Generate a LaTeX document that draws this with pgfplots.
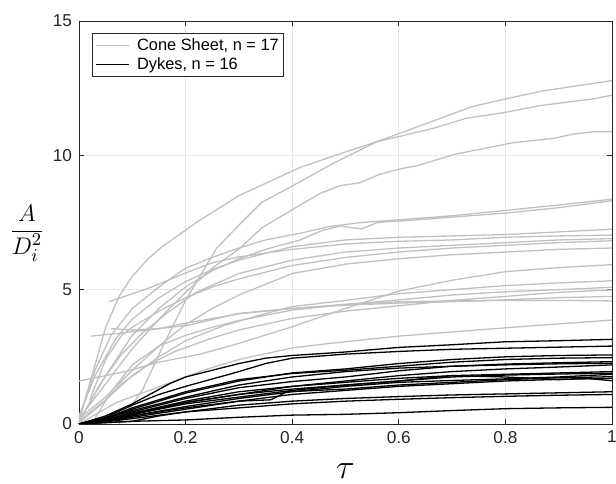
\documentclass[border=0pt]{standalone}
\usepackage{fontspec}
\setmainfont{Liberation Sans}
\usepackage{pgfplots}
\pgfplotsset{compat=1.18}
\definecolor{gl}{RGB}{192,192,192}
\definecolor{ax}{RGB}{38,38,38}
\begin{document}
\begin{tikzpicture}
\begin{axis}[name=ax, scale only axis, width=266.5pt, height=201.5pt,
  xmin=0, xmax=1, ymin=0, ymax=15,
  xtick={0,0.2,0.4,0.6,0.8,1}, ytick={0,5,10,15},
  xtick pos=both, ytick pos=both, tick align=inside, major tick length=2.5pt,
  grid=major, grid style={color=black!9, line width=0.4pt},
  axis line style={draw=ax, line width=0.45pt},
  tick style={draw=ax, line width=0.45pt},
  ticklabel style={font=\fontsize{8.6}{10}\selectfont, text=ax},
  /pgf/number format/assume math mode=true,
  xlabel={$\tau$},
  xlabel style={at={(axis description cs:0.5,0)}, anchor=north, yshift=-16.5pt, font=\fontsize{17}{20}\selectfont},
  ylabel={$\displaystyle\frac{A}{D_i^2}$},
  ylabel style={rotate=-90, at={(axis description cs:0,0.474)}, anchor=center, xshift=-26pt, font=\fontsize{13}{15}\selectfont},
  legend style={at={(0,1)}, anchor=north west, xshift=6.35pt, yshift=-6.15pt,
    draw=ax, line width=0.45pt, fill=white, font=\fontsize{8.2}{9.5}\selectfont,
    inner xsep=1.5pt, inner ysep=1.2pt, row sep=0pt,
    nodes={inner sep=0.8pt, text height=6.3pt, text depth=1.6pt},
    /tikz/every odd column/.append style={column sep=3pt}},
  legend cell align=left,
  legend image code/.code={\draw[#1] (0pt,0pt) -- (16.5pt,0pt);},
  every axis plot/.append style={line width=0.65pt},
]
% ---- Cone sheets (grey) ----
\addplot[gl] coordinates {(0,0.1)(0.03,2.2)(0.05,3.6)(0.075,4.74)(0.1,5.5)(0.13,6.15)(0.156,6.6)(0.22,7.5)(0.3,8.5)(0.415,9.55)(0.496,10.1)(0.558,10.5)(0.664,11.0)(0.727,11.38)(0.8,11.6)(0.865,11.85)(0.965,12.1)(1,12.24)};
\addlegendentry{Cone Sheet, n = 17}
\addplot[gl, forget plot] coordinates {(0.075,0)(0.12,1.3)(0.16,3.0)(0.2,4.6)(0.258,6.54)(0.3,7.4)(0.343,8.25)(0.415,9.02)(0.477,9.7)(0.558,10.5)(0.602,10.82)(0.737,11.81)(0.8,12.1)(0.871,12.4)(1,12.78)};
\addplot[gl, forget plot] coordinates {(0,0.2)(0.05,1.5)(0.1,2.8)(0.15,3.9)(0.2,4.9)(0.25,5.8)(0.302,6.54)(0.343,7.3)(0.415,8.15)(0.452,8.58)(0.49,8.87)(0.527,8.98)(0.565,9.3)(0.602,9.49)(0.633,9.61)(0.708,10.05)(0.746,10.2)(0.814,10.47)(0.89,10.63)(0.927,10.79)(0.965,10.88)(1,10.88)};
\addplot[gl, forget plot] coordinates {(0,0.2)(0.03,2.0)(0.06,3.3)(0.1,4.3)(0.15,5.1)(0.2,5.8)(0.25,6.2)(0.3,6.55)(0.35,6.85)(0.415,7.1)(0.47,7.35)(0.53,7.5)(0.6,7.6)(0.7,7.75)(0.8,7.95)(0.9,8.15)(1,8.37)};
\addplot[gl, forget plot] coordinates {(0,0.1)(0.05,1.8)(0.1,3.3)(0.15,4.3)(0.2,5.1)(0.25,5.7)(0.3,6.15)(0.35,6.5)(0.415,6.85)(0.456,7.2)(0.49,7.37)(0.53,7.26)(0.56,7.5)(0.6,7.55)(0.7,7.7)(0.8,7.85)(0.9,8.05)(1,8.31)};
\addplot[gl, forget plot] coordinates {(0.056,4.55)(0.13,5.05)(0.206,5.67)(0.25,6.0)(0.3,6.22)(0.4,6.5)(0.5,6.7)(0.6,6.8)(0.7,6.85)(0.8,6.95)(0.9,7.0)(1,7.03)};
\addplot[gl, forget plot] coordinates {(0.022,3.27)(0.0625,3.35)(0.13,3.5)(0.206,3.68)(0.3,4.12)(0.4,4.3)(0.5,4.45)(0.6,4.55)(0.7,4.58)(0.8,4.6)(0.9,4.6)(1,4.58)};
\addplot[gl, forget plot] coordinates {(0,1.6)(0.087,1.95)(0.15,2.3)(0.227,2.6)(0.3,3.0)(0.4,3.62)(0.5,4.3)(0.6,4.95)(0.7,5.35)(0.8,5.67)(0.9,5.82)(1,5.93)};
\addplot[gl, forget plot] coordinates {(0,0)(0.07,0.8)(0.146,1.35)(0.233,2.0)(0.3,2.4)(0.4,2.83)(0.47,3.0)(0.6,3.27)(0.8,3.58)(1,3.87)};
\addplot[gl, forget plot] coordinates {(0,0.3)(0.03,1.8)(0.07,3.2)(0.1,3.9)(0.15,4.7)(0.2,5.3)(0.25,5.75)(0.3,6.1)(0.4,6.6)(0.5,6.85)(0.6,6.95)(0.7,7.0)(0.8,7.05)(0.9,7.15)(1,7.25)};
\addplot[gl, forget plot] coordinates {(0,0.1)(0.04,1.5)(0.08,2.6)(0.12,3.4)(0.17,4.2)(0.22,4.9)(0.3,5.6)(0.4,6.1)(0.5,6.4)(0.6,6.55)(0.7,6.65)(0.8,6.75)(0.9,6.85)(1,6.9)};
\addplot[gl, forget plot] coordinates {(0.02,0.9)(0.05,2.4)(0.08,3.3)(0.1,3.6)(0.15,4.2)(0.2,4.7)(0.25,5.1)(0.3,5.4)(0.4,5.9)(0.5,6.2)(0.6,6.4)(0.7,6.55)(0.8,6.65)(0.9,6.75)(1,6.82)};
\addplot[gl, forget plot] coordinates {(0,0.2)(0.05,1.0)(0.1,2.0)(0.15,2.9)(0.2,3.7)(0.25,4.3)(0.3,4.8)(0.4,5.6)(0.5,5.95)(0.6,6.15)(0.7,6.3)(0.8,6.4)(0.9,6.5)(1,6.55)};
\addplot[gl, forget plot] coordinates {(0,0.1)(0.05,0.9)(0.1,1.8)(0.15,2.5)(0.2,3.1)(0.27,3.65)(0.33,4.0)(0.4,4.37)(0.5,4.6)(0.6,4.85)(0.7,5.0)(0.8,5.15)(0.9,5.25)(1,5.33)};
\addplot[gl, forget plot] coordinates {(0.03,0.2)(0.06,1.2)(0.1,2.2)(0.15,2.9)(0.2,3.3)(0.25,3.6)(0.3,3.85)(0.4,4.24)(0.5,4.45)(0.6,4.62)(0.7,4.8)(0.8,4.92)(0.9,5.0)(1,5.09)};
\addplot[gl, forget plot] coordinates {(0,0.05)(0.04,0.7)(0.08,1.5)(0.13,2.2)(0.18,2.7)(0.25,3.2)(0.3,3.5)(0.4,3.93)(0.5,4.2)(0.6,4.4)(0.7,4.6)(0.8,4.75)(0.9,4.9)(1,4.99)};
\addplot[gl, forget plot] coordinates {(0.06,3.55)(0.1,3.5)(0.15,3.55)(0.2,3.75)(0.3,4.1)(0.4,4.3)(0.5,4.42)(0.6,4.5)(0.7,4.55)(0.8,4.62)(0.9,4.7)(1,4.75)};
% ---- Dykes (black) ----
\addplot[black] coordinates {(0,0)(0.05,0.3)(0.1,0.75)(0.17,1.5)(0.2,1.75)(0.3,2.25)(0.35,2.45)(0.4,2.55)(0.5,2.68)(0.6,2.85)(0.7,2.95)(0.8,3.06)(0.9,3.1)(1,3.15)};
\addlegendentry{Dykes, n = 16}
\addplot[black, forget plot] coordinates {(0,0)(0.05,0.25)(0.1,0.7)(0.15,1.1)(0.2,1.4)(0.3,1.95)(0.35,2.25)(0.4,2.45)(0.5,2.6)(0.6,2.7)(0.7,2.78)(0.8,2.82)(0.9,2.86)(1,2.9)};
\addplot[black, forget plot] coordinates {(0,0)(0.05,0.2)(0.1,0.55)(0.2,1.15)(0.3,1.6)(0.4,1.9)(0.5,2.05)(0.6,2.25)(0.7,2.4)(0.8,2.5)(0.9,2.55)(1,2.57)};
\addplot[black, forget plot] coordinates {(0,0)(0.05,0.22)(0.1,0.6)(0.2,1.2)(0.3,1.65)(0.4,1.88)(0.5,2.0)(0.6,2.15)(0.7,2.3)(0.8,2.4)(0.9,2.45)(1,2.47)};
\addplot[black, forget plot] coordinates {(0,0)(0.05,0.15)(0.1,0.45)(0.2,0.95)(0.3,1.35)(0.4,1.58)(0.5,1.75)(0.6,1.98)(0.7,2.15)(0.8,2.23)(0.9,2.28)(1,2.32)};
\addplot[black, forget plot] coordinates {(0,0)(0.05,0.2)(0.1,0.5)(0.2,1.0)(0.3,1.45)(0.4,1.75)(0.5,1.95)(0.6,2.08)(0.7,2.15)(0.8,2.2)(0.9,2.24)(1,2.26)};
\addplot[black, forget plot] coordinates {(0.02,0)(0.05,0.12)(0.1,0.35)(0.2,0.8)(0.3,1.1)(0.4,1.4)(0.5,1.6)(0.6,1.8)(0.7,1.95)(0.8,2.05)(0.9,2.12)(1,2.2)};
\addplot[black, forget plot] coordinates {(0,0)(0.05,0.15)(0.1,0.4)(0.2,0.85)(0.3,1.2)(0.4,1.4)(0.5,1.55)(0.6,1.7)(0.7,1.8)(0.8,1.85)(0.9,1.9)(1,1.95)};
\addplot[black, forget plot] coordinates {(0,0)(0.05,0.12)(0.1,0.35)(0.2,0.75)(0.3,1.0)(0.4,1.25)(0.5,1.45)(0.6,1.6)(0.7,1.75)(0.8,1.82)(0.9,1.86)(1,1.89)};
\addplot[black, forget plot] coordinates {(0,0)(0.05,0.15)(0.1,0.4)(0.2,0.8)(0.3,1.1)(0.4,1.3)(0.5,1.45)(0.6,1.6)(0.7,1.8)(0.8,1.75)(0.9,1.65)(0.95,1.7)(1,1.61)};
\addplot[black, forget plot] coordinates {(0,0)(0.05,0.1)(0.1,0.3)(0.2,0.6)(0.3,0.85)(0.36,0.9)(0.39,1.2)(0.5,1.3)(0.6,1.45)(0.7,1.55)(0.8,1.65)(0.9,1.72)(1,1.76)};
\addplot[black, forget plot] coordinates {(0,0)(0.05,0.1)(0.1,0.25)(0.2,0.55)(0.3,0.85)(0.4,1.1)(0.5,1.25)(0.6,1.4)(0.7,1.5)(0.8,1.6)(0.9,1.66)(1,1.7)};
\addplot[black, forget plot] coordinates {(0,0)(0.05,0.12)(0.1,0.3)(0.2,0.65)(0.3,0.95)(0.4,1.2)(0.5,1.4)(0.6,1.55)(0.7,1.62)(0.8,1.68)(0.9,1.75)(1,1.85)};
\addplot[black, forget plot] coordinates {(0,0)(0.05,0.08)(0.1,0.2)(0.2,0.45)(0.3,0.7)(0.4,0.85)(0.5,0.95)(0.6,1.02)(0.7,1.08)(0.8,1.12)(0.9,1.16)(1,1.2)};
\addplot[black, forget plot] coordinates {(0,0)(0.1,0.1)(0.15,0.3)(0.2,0.45)(0.3,0.6)(0.4,0.75)(0.5,0.85)(0.6,0.92)(0.7,0.98)(0.8,1.03)(0.9,1.07)(1,1.1)};
\addplot[black, forget plot] coordinates {(0,0)(0.1,0.1)(0.2,0.15)(0.3,0.25)(0.4,0.33)(0.5,0.36)(0.6,0.42)(0.7,0.5)(0.8,0.57)(0.9,0.6)(1,0.62)};
\end{axis}
\pgfresetboundingbox
\path ([shift={(-39.5pt,-30pt)}]ax.south west) rectangle ([shift={(2pt,10.5pt)}]ax.north east);
\end{tikzpicture}
\end{document}
